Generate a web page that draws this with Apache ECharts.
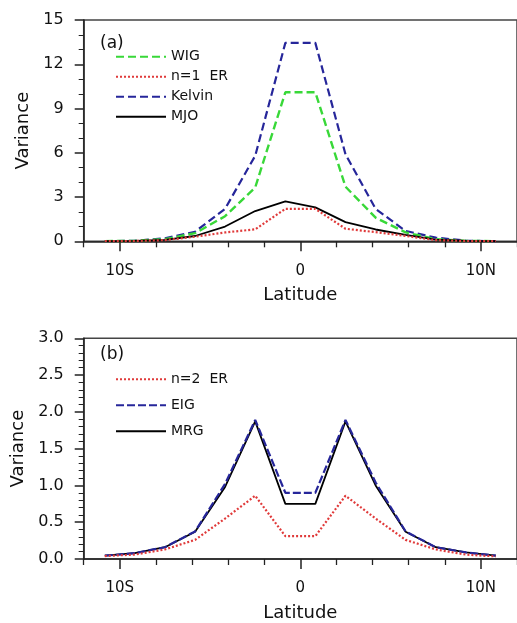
<!DOCTYPE html>
<html><head><meta charset="utf-8">
<script src="https://cdn.jsdelivr.net/npm/echarts@6/dist/echarts.min.js"></script>
<style>html,body{margin:0;padding:0;background:#fff}#c{width:517px;height:623px}</style>
</head><body><div id="c"></div>
<script>
// Latitudes of the data points (degrees, negative = south)
const lat = [-10.83, -9.17, -7.5, -5.83, -4.17, -2.5, -0.83, 0.83, 2.5, 4.17, 5.83, 7.5, 9.17, 10.83];

// Panel (a)
const wig    = [0.01, 0.03, 0.15, 0.55, 1.7, 3.65, 10.1, 10.1, 3.7, 1.6, 0.6, 0.15, 0.03, 0.01];
const er1    = [0.01, 0.02, 0.08, 0.31, 0.6, 0.81, 2.2, 2.2, 0.85, 0.62, 0.36, 0.08, 0.02, 0.01];
const kelvin = [0.01, 0.04, 0.2, 0.65, 2.2, 5.8, 13.45, 13.45, 5.9, 2.2, 0.7, 0.25, 0.04, 0.01];
const mjo    = [0.01, 0.03, 0.1, 0.36, 1.0, 2.05, 2.7, 2.3, 1.3, 0.8, 0.43, 0.12, 0.03, 0.01];

// Panel (b)
const er2 = [0.04, 0.06, 0.13, 0.26, 0.55, 0.86, 0.31, 0.31, 0.86, 0.55, 0.26, 0.13, 0.06, 0.035];
const eig = [0.045, 0.08, 0.16, 0.375, 1.02, 1.89, 0.9, 0.9, 1.89, 1.04, 0.375, 0.16, 0.09, 0.045];
const mrg = [0.045, 0.08, 0.16, 0.37, 0.98, 1.87, 0.75, 0.75, 1.87, 1.0, 0.37, 0.16, 0.09, 0.045];

// Axis tick labels
const xMajor = [-10, 0, 10];
const xMinor = [-12, -8, -6, -4, -2, 2, 4, 6, 8, 12];
const xLabel = v => v < 0 ? (-v) + 'S' : (v > 0 ? v + 'N' : '0');

const FONT = 'DejaVu Sans';
const chart = echarts.init(document.getElementById('c'), null, {renderer: 'canvas'});

const pairs = arr => lat.map((x, i) => [x, arr[i]]);

function xAxes(gi) {
  return [
    {
      gridIndex: gi, type: 'value', min: -12, max: 12, position: 'bottom',
      name: 'Latitude', nameLocation: 'middle', nameGap: 45,
      nameTextStyle: {fontFamily: FONT, fontSize: 18, color: '#111'},
      axisLine: {show: true, onZero: false, lineStyle: {color: '#222', width: 1.5}},
      axisTick: {show: true, inside: false, customValues: xMajor, length: 10, lineStyle: {color: '#222', width: 1.5}},
      axisLabel: {customValues: xMajor, formatter: xLabel, margin: 22, fontFamily: FONT, fontSize: 15, color: '#111'},
      splitLine: {show: false}
    },
    {
      gridIndex: gi, type: 'value', min: -12, max: 12, position: 'bottom',
      axisLine: {show: false, onZero: false},
      axisTick: {show: true, inside: false, customValues: xMinor, length: 6, lineStyle: {color: '#222', width: 1.3}},
      axisLabel: {show: false},
      splitLine: {show: false}
    }
  ];
}

function yAxis(gi, max, interval, split, digits) {
  return {
    gridIndex: gi, type: 'value', min: 0, max: max, interval: interval, position: 'left',
    name: 'Variance', nameLocation: 'middle', nameGap: 48,
    nameTextStyle: {fontFamily: FONT, fontSize: 18, color: '#111'},
    axisLine: {show: true, onZero: false, lineStyle: {color: '#222', width: 1.5}},
    axisTick: {show: true, length: 9, lineStyle: {color: '#222', width: 1.5}},
    minorTick: {show: true, splitNumber: split, length: 5, lineStyle: {color: '#222', width: 1}},
    axisLabel: {margin: 20, fontFamily: FONT, fontSize: 16, color: '#111',
      formatter: v => v.toFixed(digits)},
    splitLine: {show: false}
  };
}

function line(name, data, xi, yi, color, type, width, z) {
  return {
    name: name, type: 'line', xAxisIndex: xi, yAxisIndex: yi, data: pairs(data),
    symbol: 'none', smooth: false, z: z, animation: false,
    lineStyle: {color: color, type: type, width: width},
    itemStyle: {color: color}
  };
}

const GREEN = '#38d838', RED = '#e03a3a', BLUE = '#26269a', BLACK = '#000';

const legendCommon = {
  orient: 'vertical', left: 110, itemWidth: 50, itemHeight: 14, selectedMode: false,
  itemStyle: {opacity: 0},
  textStyle: {fontFamily: FONT, fontSize: 14, color: '#111'}
};

const option = {
  backgroundColor: '#fff',
  animation: false,
  grid: [
    {left: 83.7, top: 20, width: 441.6, height: 221.3, show: true, borderColor: '#444', borderWidth: 1.5},
    {left: 83.7, top: 338.3, width: 441.6, height: 221, show: true, borderColor: '#444', borderWidth: 1.5}
  ],
  xAxis: [...xAxes(0), ...xAxes(1)],
  yAxis: [yAxis(0, 15, 3, 3, 0), yAxis(1, 3, 0.5, 5, 1)],
  legend: [
    Object.assign({}, legendCommon, {data: ['WIG', 'n=1  ER', 'Kelvin', 'MJO'], top: 44.7, itemGap: 6}),
    Object.assign({}, legendCommon, {data: ['n=2  ER', 'EIG', 'MRG'], top: 367.3, itemGap: 12})
  ],
  graphic: [
    {type: 'text', left: 100, top: 35, style: {text: '(a)', font: '17px "DejaVu Sans"', fill: '#111'}, z: 100},
    {type: 'text', left: 100, top: 346, style: {text: '(b)', font: '17px "DejaVu Sans"', fill: '#111'}, z: 100}
  ],
  series: [
    line('Kelvin', kelvin, 0, 0, BLUE, [8, 4], 2.2, 2),
    line('WIG', wig, 0, 0, GREEN, [8, 4], 2.4, 3),
    line('MJO', mjo, 0, 0, BLACK, 'solid', 1.8, 4),
    line('n=1  ER', er1, 0, 0, RED, [2, 2], 2.2, 5),
    line('n=2  ER', er2, 2, 1, RED, [2, 2], 2.2, 5),
    line('MRG', mrg, 2, 1, BLACK, 'solid', 1.8, 3),
    line('EIG', eig, 2, 1, BLUE, [8, 3], 2.2, 4)
  ]
};
chart.setOption(option);
</script></body></html>
